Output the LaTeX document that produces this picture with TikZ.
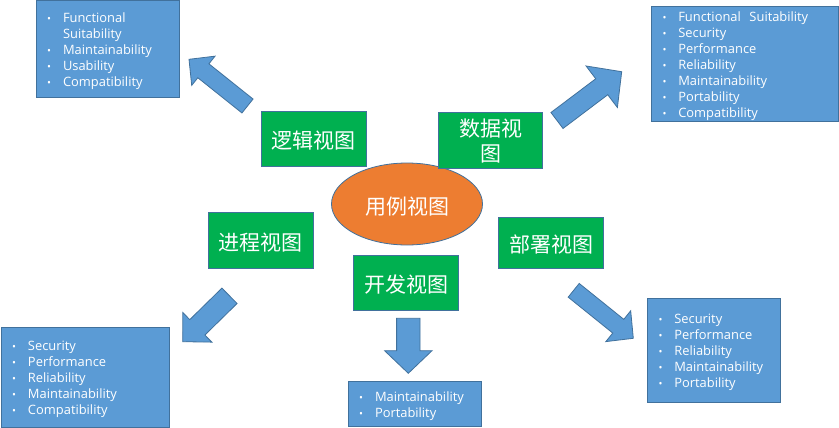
\documentclass[tikz,border=0pt]{standalone}
\usepackage{fontspec}
\setmainfont{Open Sans}
\newfontfamily\cjkfont{Noto Sans CJK SC}
\usetikzlibrary{calc,shapes.geometric}
\definecolor{boxblue}{HTML}{5B9BD5}
\definecolor{bordblue}{HTML}{41719C}
\definecolor{viewgreen}{HTML}{00B050}
\definecolor{caseorange}{HTML}{ED7D31}
\newcommand\bitem{\makebox[17pt][l]{\hspace*{1.2pt}{\fontsize{10.5}{10}\selectfont\textbullet}}}
\newcommand\bcont{\hspace*{17pt}}
\newcommand\blkarrow[5]{% tail, tip, half shaft, half head, head length
  \coordinate (hb) at ($(#2)!#5!(#1)$);
  \filldraw[arrowfill] ($(#1)!#3!90:(#2)$) -- ($(hb)!#3!90:(#2)$) -- ($(hb)!#4!90:(#2)$) -- (#2)
    -- ($(hb)!#4!-90:(#2)$) -- ($(hb)!#3!-90:(#2)$) -- ($(#1)!#3!-90:(#2)$) -- cycle;}
\begin{document}
\begin{tikzpicture}[x=1pt,y=-1pt,
  bluebox/.style={draw=bordblue, line width=0.8pt, fill=boxblue, inner sep=0pt},
  listtext/.style={text=white, inner sep=0pt, align=left, font=\fontsize{12.9}{16}\selectfont},
  viewbox/.style={draw=bordblue, line width=0.8pt, fill=viewgreen, inner sep=0pt},
  viewtext/.style={text=white, inner sep=0pt, align=center, font=\cjkfont\fontsize{21}{25}\selectfont},
  caseell/.style={ellipse, draw=bordblue, line width=0.8pt, fill=caseorange, inner sep=0pt},
  arrowfill/.style={draw=bordblue, line width=0.8pt, fill=boxblue, line join=miter}]
\useasboundingbox (0,0) rectangle (839,428);
\fill[white] (0,0) rectangle (839,428);

% central use-case ellipse
\node[caseell, minimum width=151pt, minimum height=82pt] (usecase) at (407,204) {};
\node[viewtext] (usecaset) at ($(usecase.center)+(0,2.5)$) {用例视图};

% view boxes
\node[viewbox, minimum width=105.7pt, minimum height=54.7pt] (logic) at (313.9,138.7) {};
\node[viewtext] (logict) at ($(logic.center)+(0,2)$) {逻辑视图};
\node[viewbox, minimum width=104.4pt, minimum height=56pt] (data) at (490.5,140.3) {};
\node[viewtext] (datat) at ($(data.center)+(0,1)$) {数据视\\图};
\node[viewbox, minimum width=105pt, minimum height=56pt] (process) at (260.8,240.3) {};
\node[viewtext] (processt) at ($(process.center)+(0,2)$) {进程视图};
\node[viewbox, minimum width=105.4pt, minimum height=55pt] (dev) at (406,282.5) {};
\node[viewtext] (devt) at ($(dev.center)+(0,2)$) {开发视图};
\node[viewbox, minimum width=105.4pt, minimum height=51pt] (deploy) at (551,242.8) {};
\node[viewtext] (deployt) at ($(deploy.center)+(0,2)$) {部署视图};

% quality boxes
\node[bluebox, minimum width=143pt, minimum height=97pt] (qlogic) at (107.5,48.5) {};
\node[listtext, text width=123pt] (qlogict) at ($(qlogic.center)+(0,2.5)$)
  {\bitem Functional\\\bcont Suitability\\\bitem Maintainability\\\bitem Usability\\\bitem Compatibility};
\node[bluebox, minimum width=187pt, minimum height=115pt] (qdata) at (744.8,63.5) {};
\node[listtext, text width=167pt] (qdatat) at ($(qdata.center)+(0,2.5)$)
  {\bitem Functional\ \ Suitability\\\bitem Security\\\bitem Performance\\\bitem Reliability\\\bitem Maintainability\\\bitem Portability\\\bitem Compatibility};
\node[bluebox, minimum width=168pt, minimum height=100pt] (qprocess) at (85,377) {};
\node[listtext, text width=148pt] (qprocesst) at ($(qprocess.center)+(0,2.5)$)
  {\bitem Security\\\bitem Performance\\\bitem Reliability\\\bitem Maintainability\\\bitem Compatibility};
\node[bluebox, minimum width=133.7pt, minimum height=45.4pt] (qdev) at (414.85,404) {};
\node[listtext, text width=113.7pt] (qdevt) at ($(qdev.center)+(0,2.5)$)
  {\bitem Maintainability\\\bitem Portability};
\node[bluebox, minimum width=133.4pt, minimum height=104pt] (qdeploy) at (714,350.3) {};
\node[listtext, text width=113.4pt] (qdeployt) at ($(qdeploy.center)+(0,2.5)$)
  {\bitem Security\\\bitem Performance\\\bitem Reliability\\\bitem Maintainability\\\bitem Portability};

% block arrows
\coordinate (a1tail) at (247.5,106);   \coordinate (a1tip) at (189,59.3);
\coordinate (a2tail) at (557,120.5);   \coordinate (a2tip) at (621.7,71.7);
\coordinate (a3tail) at (229.5,295.8); \coordinate (a3tip) at (182.7,341.7);
\coordinate (a4tail) at (408.3,318.3); \coordinate (a4tip) at (408.3,373.3);
\coordinate (a5tail) at (573.7,290.3); \coordinate (a5tip) at (633.3,338.3);
\blkarrow{a1tail}{a1tip}{8.9pt}{18.7pt}{18.4pt}
\blkarrow{a2tail}{a2tip}{10pt}{26pt}{25pt}
\blkarrow{a3tail}{a3tip}{10.8pt}{20.7pt}{20.5pt}
\blkarrow{a4tail}{a4tip}{11.7pt}{23.7pt}{22.6pt}
\blkarrow{a5tail}{a5tip}{8.8pt}{19.8pt}{19.3pt}
\end{tikzpicture}
\end{document}
